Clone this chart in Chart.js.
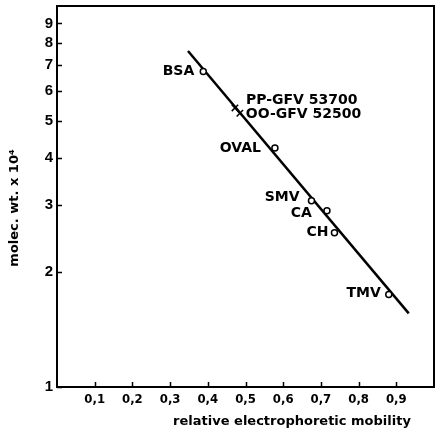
<!DOCTYPE html>
<html>
<head>
<meta charset="utf-8">
<script src="https://cdn.jsdelivr.net/npm/chart.js@4/dist/chart.umd.min.js"></script>
<style>
  html, body { margin: 0; padding: 0; background: #fff; }
  #wrap { width: 440px; height: 433px; position: relative; }
</style>
</head>
<body>
<div id="wrap"><canvas id="chart"></canvas></div>
<script>
// values (mol. wt. in units of 10^4)
const proteinNames = ['BSA', 'OVAL', 'SMV', 'CA', 'CH', 'TMV'];
const proteinMobility = [0.388, 0.578, 0.675, 0.716, 0.736, 0.880];
const proteinMolWt = [6.73, 4.24, 3.08, 2.90, 2.54, 1.75];

const gfvNames = ['PP-GFV 53700', 'OO-GFV 52500'];
const gfvMobility = [0.472, 0.485];
const gfvMolWt = [5.40, 5.23];

const fitMobility = [0.3475, 0.933];
const fitMolWt = [7.62, 1.56];

const xTicks = [0.1, 0.2, 0.3, 0.4, 0.5, 0.6, 0.7, 0.8, 0.9];
const yTicks = [1, 2, 3, 4, 5, 6, 7, 8, 9];

// label placement, pixels relative to the marker: [dx, dy, align]
const proteinLabelPos = [[-9, 0, 'right'], [-14, 0, 'right'], [-12, -4, 'right'],
  [-15, 3, 'right'], [-6, 0, 'right'], [-8, -1, 'right']];
const gfvLabelPos = [[11, -8, 'left'], [6, 1, 'left']];

const labelFont = 'bold 14px "DejaVu Sans", sans-serif';
const titleFont = 'bold 13px "DejaVu Sans", sans-serif';

const toPts = (xs, ys) => xs.map((x, i) => ({ x, y: ys[i] }));

const decorPlugin = {
  id: 'decor',
  afterDatasetsDraw(chart) {
    const { ctx, chartArea: a, scales } = chart;
    const xs = scales.x, ys = scales.y;
    ctx.save();
    // frame
    ctx.strokeStyle = '#000';
    ctx.lineWidth = 2;
    ctx.strokeRect(a.left, a.top, a.right - a.left, a.bottom - a.top);
    // inward ticks
    ctx.lineWidth = 1.5;
    ctx.beginPath();
    xTicks.forEach(v => {
      const px = Math.round(xs.getPixelForValue(v)) + 0.5;
      ctx.moveTo(px, a.bottom);
      ctx.lineTo(px, a.bottom - 5);
    });
    yTicks.forEach(v => {
      const py = Math.round(ys.getPixelForValue(v)) + 0.5;
      ctx.moveTo(a.left, py);
      ctx.lineTo(a.left + 5, py);
    });
    ctx.stroke();

    // point labels
    ctx.fillStyle = '#000';
    ctx.font = labelFont;
    ctx.textBaseline = 'middle';
    const put = (names, mx, my, pos) => names.forEach((n, i) => {
      const px = xs.getPixelForValue(mx[i]);
      const py = ys.getPixelForValue(my[i]);
      ctx.textAlign = pos[i][2];
      ctx.fillText(n, px + pos[i][0], py + pos[i][1]);
    });
    put(proteinNames, proteinMobility, proteinMolWt, proteinLabelPos);
    put(gfvNames, gfvMobility, gfvMolWt, gfvLabelPos);

    // axis titles
    ctx.font = titleFont;
    ctx.textAlign = 'center';
    ctx.fillText('relative electrophoretic mobility', 292, 422);
    ctx.translate(15, 208);
    ctx.rotate(-Math.PI / 2);
    ctx.fillText('molec. wt. x 10\u2074', 0, 0);
    ctx.restore();
  }
};

new Chart(document.getElementById('chart'), {
  type: 'scatter',
  data: {
    datasets: [
      {
        data: toPts(fitMobility, fitMolWt),
        showLine: true,
        borderColor: '#000',
        borderWidth: 2.5,
        pointRadius: 0,
        order: 3
      },
      {
        data: toPts(proteinMobility, proteinMolWt),
        pointStyle: 'circle',
        pointRadius: 3,
        pointBorderWidth: 1.5,
        pointBorderColor: '#000',
        pointBackgroundColor: '#fff',
        order: 1
      },
      {
        data: toPts(gfvMobility, gfvMolWt),
        pointStyle: 'crossRot',
        pointRadius: 4.5,
        pointBorderWidth: 1.5,
        pointBorderColor: '#000',
        pointBackgroundColor: '#fff',
        order: 2
      }
    ]
  },
  options: {
    responsive: true,
    maintainAspectRatio: false,
    animation: false,
    layout: { padding: { top: 2, right: 2, left: 0, bottom: 0 } },
    plugins: { legend: { display: false }, tooltip: { enabled: false } },
    scales: {
      x: {
        type: 'linear',
        min: 0,
        max: 1,
        grid: { display: false, drawTicks: false },
        border: { display: false },
        afterBuildTicks: s => { s.ticks = xTicks.map(v => ({ value: v })); },
        afterFit: s => { s.height = 46; s.paddingLeft = 0; s.paddingRight = 0; },
        ticks: {
          padding: 5,
          color: '#000',
          maxRotation: 0,
          autoSkip: false,
          font: { family: '"Liberation Sans Narrow", "DejaVu Sans Condensed", sans-serif', size: 13, weight: 'bold' },
          callback: v => v.toFixed(1).replace('.', ',')
        }
      },
      y: {
        type: 'logarithmic',
        min: 1,
        max: 10,
        grid: { display: false, drawTicks: false },
        border: { display: false },
        afterBuildTicks: s => { s.ticks = yTicks.map(v => ({ value: v })); },
        afterFit: s => { s.width = 57; s.paddingTop = 0; s.paddingBottom = 0; },
        ticks: {
          padding: 4,
          color: '#000',
          autoSkip: false,
          font: { family: '"Liberation Sans", sans-serif', size: 15, weight: 'bold' },
          callback: v => String(v)
        }
      }
    }
  },
  plugins: [decorPlugin]
});
</script>
</body>
</html>
